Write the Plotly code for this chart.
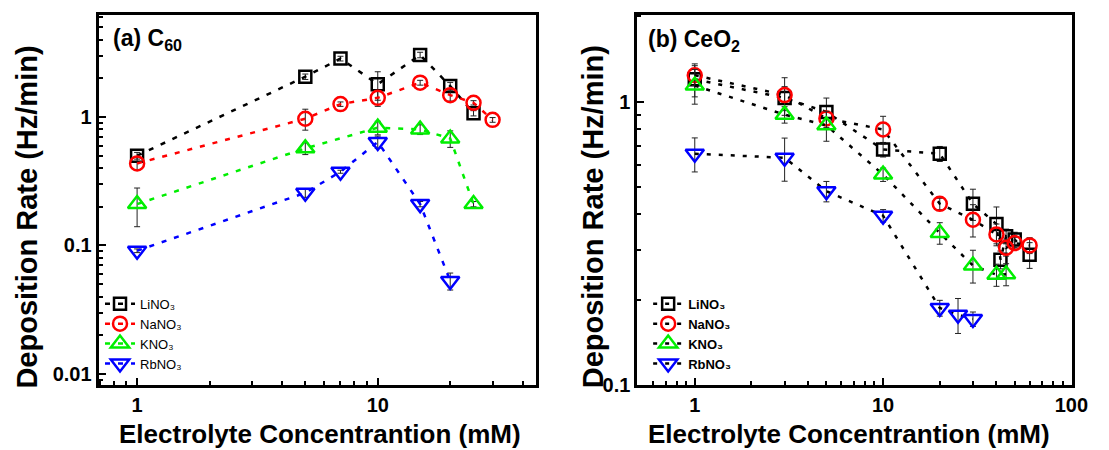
import plotly.graph_objects as go

# ---------------- Panel (a) C60 data ----------------
a_li_x = [1, 5, 7, 10, 15, 20, 25]
a_li_y = [0.50, 2.06, 2.85, 1.80, 3.04, 1.74, 1.07]
a_li_e = [0.03, 0.10, 0.12, 0.45, 0.15, 0.12, 0.05]

a_na_x = [1, 5, 7, 10, 15, 20, 25, 30]
a_na_y = [0.435, 0.97, 1.26, 1.41, 1.85, 1.48, 1.29, 0.95]
a_na_e = [0.05, 0.18, 0.05, 0.20, 0.08, 0.15, 0.05, 0.04]

a_k_x = [1, 5, 10, 15, 20, 25]
a_k_y = [0.21, 0.57, 0.826, 0.80, 0.68, 0.21]
a_k_e = [0.07, 0.06, 0.10, 0.07, 0.10, 0.01]

a_rb_x = [1, 5, 7, 10, 15, 20]
a_rb_y = [0.091, 0.257, 0.375, 0.64, 0.21, 0.053]
a_rb_e = [0.003, 0.02, 0.01, 0.07, 0.01, 0.008]

# ---------------- Panel (b) CeO2 data ----------------
b_li_x = [1, 3, 5, 10, 20, 30, 40, 42, 45, 50, 60]
b_li_y = [1.20, 1.03, 0.92, 0.678, 0.655, 0.436, 0.37, 0.277, 0.335, 0.326, 0.288]
b_li_e = [0.16, 0.10, 0.11, 0.04, 0.04, 0.055, 0.055, 0.02, 0.02, 0.02, 0.03]

b_na_x = [1, 3, 5, 10, 20, 30, 40, 45, 50, 60]
b_na_y = [1.24, 1.055, 0.873, 0.798, 0.436, 0.383, 0.34, 0.305, 0.317, 0.311]
b_na_e = [0.10, 0.16, 0.05, 0.09, 0.02, 0.05, 0.03, 0.02, 0.015, 0.02]

b_k_x = [1, 3, 5, 10, 20, 30, 40, 45]
b_k_y = [1.14, 0.90, 0.825, 0.553, 0.344, 0.264, 0.245, 0.246]
b_k_e = [0.16, 0.06, 0.10, 0.03, 0.03, 0.035, 0.022, 0.022]

b_rb_x = [1, 3, 5, 10, 20, 25, 30]
b_rb_y = [0.655, 0.634, 0.483, 0.396, 0.187, 0.177, 0.171]
b_rb_e = [0.09, 0.11, 0.04, 0.02, 0.012, 0.025, 0.01]

names = ["LiNO₃", "NaNO₃", "KNO₃", "RbNO₃"]
colors = ["#000000", "#ff0000", "#00ee00", "#0000ff"]
symbols = ["square-open", "circle-open", "triangle-up-open", "triangle-down-open"]
sizes = [12, 14, 16, 16]

FONT = "Liberation Sans, Arial, sans-serif"

fig = go.Figure()

a_sets = [(a_li_x, a_li_y, a_li_e), (a_na_x, a_na_y, a_na_e),
          (a_k_x, a_k_y, a_k_e), (a_rb_x, a_rb_y, a_rb_e)]
b_sets = [(b_li_x, b_li_y, b_li_e), (b_na_x, b_na_y, b_na_e),
          (b_k_x, b_k_y, b_k_e), (b_rb_x, b_rb_y, b_rb_e)]

for i, (xs, ys, es) in enumerate(a_sets):
    fig.add_trace(go.Scatter(
        x=xs, y=ys, name=names[i], mode="lines+markers",
        xaxis="x", yaxis="y", legend="legend",
        line=dict(color=colors[i], width=2.5, dash="5px,8px"),
        marker=dict(symbol=symbols[i], size=sizes[i], color=colors[i],
                    line=dict(width=2.5, color=colors[i])),
        error_y=dict(type="data", array=es, visible=True, color="#222222",
                     thickness=1, width=3),
    ))

for i, (xs, ys, es) in enumerate(b_sets):
    fig.add_trace(go.Scatter(
        x=xs, y=ys, name=names[i], mode="lines+markers",
        xaxis="x2", yaxis="y2", legend="legend2",
        line=dict(color="#000000", width=2.5, dash="4px,8px"),
        marker=dict(symbol=symbols[i], size=sizes[i], color=colors[i],
                    line=dict(width=2.5, color=colors[i])),
        error_y=dict(type="data", array=es, visible=True, color="#222222",
                     thickness=1, width=3),
    ))

axis_common = dict(
    type="log", showgrid=False, zeroline=False,
    showline=True, linecolor="black", linewidth=3, mirror=True,
    ticks="inside", ticklen=7, tickwidth=2, tickcolor="black",
    dtick=1,
    tickfont=dict(family=FONT, size=20, color="black", weight="bold"),
    minor=dict(ticks="inside", ticklen=4, tickwidth=1.5, tickcolor="black",
               dtick="D1", showgrid=False),
)

fig.update_layout(
    width=1109, height=450,
    margin=dict(l=0, r=0, t=15, b=65),
    paper_bgcolor="white", plot_bgcolor="white",
    font=dict(family=FONT, color="black"),
    xaxis=dict(axis_common, domain=[0.0902, 0.4905], range=[-0.16, 1.658], anchor="y"),
    yaxis=dict(axis_common, domain=[0, 1], range=[-2.086, 0.794], anchor="x"),
    xaxis2=dict(axis_common, domain=[0.5831, 0.9811], range=[-0.305, 2.005], anchor="y2"),
    yaxis2=dict(axis_common, domain=[0, 1], range=[-1, 0.306], anchor="x2"),
    legend=dict(x=0.0915, y=0.26, xanchor="left", yanchor="top",
                bgcolor="rgba(0,0,0,0)", borderwidth=0, itemwidth=30,
                font=dict(family=FONT, size=13, color="black")),
    legend2=dict(x=0.593, y=0.26, xanchor="left", yanchor="top",
                 bgcolor="rgba(0,0,0,0)", borderwidth=0, itemwidth=30,
                 font=dict(family=FONT, size=13, color="black", weight="bold")),
    showlegend=True,
)

ann = []
ann.append(dict(text="<b>(a) C<sub>60</sub></b>", x=113/1109, y=(385-40)/370,
                xref="paper", yref="paper", xanchor="left", yanchor="middle",
                showarrow=False, font=dict(family=FONT, size=23, color="black")))
ann.append(dict(text="<b>(b) CeO<sub>2</sub></b>", x=655/1109, y=(385-41)/370,
                xref="paper", yref="paper", xanchor="left", yanchor="middle",
                showarrow=False, font=dict(family=FONT, size=23, color="black")))
for cx in [325, 861]:
    ann.append(dict(text="<b>Electrolyte Concentrantion (mM)</b>", x=cx/1109, y=(385-434)/370,
                    xref="paper", yref="paper", xanchor="center", yanchor="middle",
                    showarrow=False, font=dict(family=FONT, size=26, color="black")))
for cx in [27, 602]:
    ann.append(dict(text="<b>Deposition Rate (Hz/min)</b>", x=cx/1109, y=(385-217)/370,
                    xref="paper", yref="paper", xanchor="center", yanchor="middle",
                    textangle=-90, showarrow=False,
                    font=dict(family=FONT, size=29, color="black")))
fig.update_layout(annotations=ann)

fig.write_html("out.html")
